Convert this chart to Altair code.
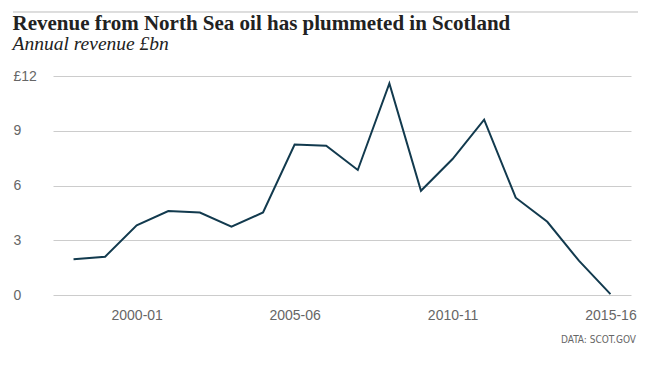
import altair as alt
import pandas as pd

years = ["1998-99", "1999-00", "2000-01", "2001-02", "2002-03", "2003-04",
         "2004-05", "2005-06", "2006-07", "2007-08", "2008-09", "2009-10",
         "2010-11", "2011-12", "2012-13", "2013-14", "2014-15", "2015-16"]
revenue = [1.96, 2.10, 3.82, 4.60, 4.52, 3.75, 4.52, 8.24, 8.18, 6.85,
           11.59, 5.71, 7.45, 9.61, 5.33, 4.01, 1.88, 0.05]
x_ticks = ["2000-01", "2005-06", "2010-11", "2015-16"]
y_ticks = [0, 3, 6, 9, 12]

df = pd.DataFrame({"year": years, "revenue": revenue})

W, H = 578, 219

line = alt.Chart(df).mark_line(color="#123a4e", strokeWidth=2).encode(
    x=alt.X("year:N", sort=years, title=None,
            scale=alt.Scale(type="point", padding=0.65),
            axis=alt.Axis(values=x_ticks, labelAngle=0, ticks=False, tickSize=0,
                          domain=False, grid=False, labelPadding=13,
                          labelFont="Liberation Sans", labelFontSize=14,
                          labelColor="#666666")),
    y=alt.Y("revenue:Q", title=None,
            scale=alt.Scale(domain=[0, 12], nice=False, zero=True),
            axis=alt.Axis(values=y_ticks, ticks=False, tickSize=0, domain=False,
                          grid=True, gridColor="#cccccc", gridWidth=1,
                          labelAlign="left", labelPadding=40,
                          labelFont="Liberation Sans", labelFontSize=14,
                          labelColor="#666666",
                          labelExpr="datum.value == 12 ? '£12' : datum.label")),
)

top_rule = alt.Chart(df).mark_rule(color="#dddddd", strokeWidth=1).encode(
    x=alt.value(-40), x2=alt.value(585), y=alt.value(-64)
)

source = alt.Chart(pd.DataFrame({"t": ["DATA: SCOT.GOV"]})).mark_text(
    align="right", baseline="alphabetic",
    font="DejaVu Sans Condensed, Liberation Sans",
    fontSize=10, color="#666666"
).encode(text="t:N", x=alt.value(W + 5), y=alt.value(H + 48))

chart = alt.layer(top_rule, line, source).properties(
    width=W, height=H,
    autosize=alt.AutoSizeParams(type="none"),
    padding={"left": 45, "top": 68, "right": 10, "bottom": 50},
    title=alt.Title(
        "Revenue from North Sea oil has plummeted in Scotland",
        subtitle="Annual revenue £bn",
        anchor="start", frame="bounds",
        font="Liberation Serif", fontSize=21, fontWeight="bold", color="#222222",
        subtitleFont="Liberation Serif", subtitleFontSize=19.5,
        subtitleFontStyle="italic", subtitleColor="#222222",
        subtitlePadding=1, offset=-42,
    ),
).configure_view(stroke=None)

chart.save("out.html", embed_options={"renderer": "svg", "actions": False})
